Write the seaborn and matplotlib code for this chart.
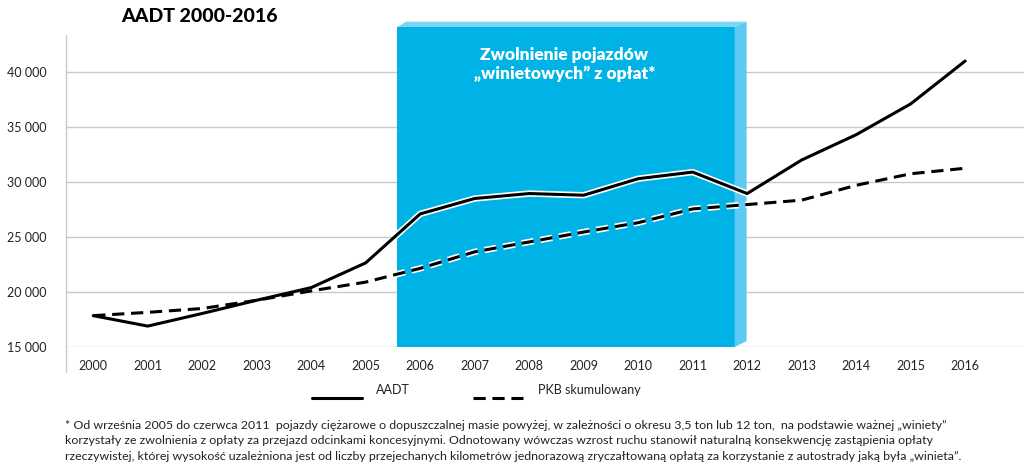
import matplotlib
matplotlib.use("Agg")
import matplotlib.pyplot as plt
import matplotlib.patheffects as pe
from matplotlib.patches import Polygon, Rectangle
from matplotlib.lines import Line2D
import seaborn as sns
import pandas as pd
import numpy as np

# ---- data ----
years = [str(y) for y in range(2000, 2017)]
aadt = [17850, 16900, 18050, 19250, 20400, 22650, 27100, 28500, 28950,
        28800, 30300, 30900, 28950, 32000, 34300, 37100, 41000]
pkb = [17850, 18150, 18500, 19250, 20100, 20900, 22150, 23650, 24550,
       25450, 26300, 27550, 27950, 28350, 29700, 30750, 31250]
ytick_vals = [15000, 20000, 25000, 30000, 35000, 40000]
ytick_labels = ["15 000", "20 000", "25 000", "30 000", "35 000", "40 000"]
title = "AADT 2000-2016"
box_text = "Zwolnienie pojazdów\n\u201ewinietowych\u201d z opłat*"
legend_labels = ["AADT", "PKB skumulowany"]
footnote = [
    "* Od września 2005 do czerwca 2011  pojazdy ciężarowe o dopuszczalnej masie powyżej, w zależności o okresu 3,5 ton lub 12 ton,  na podstawie ważnej \u201ewiniety\u201d",
    "korzystały ze zwolnienia z opłaty za przejazd odcinkami koncesyjnymi. Odnotowany wówczas wzrost ruchu stanowił naturalną konsekwencję zastąpienia opłaty",
    "rzeczywistej, której wysokość uzależniona jest od liczby przejechanych kilometrów jednorazową zryczałtowaną opłatą za korzystanie z autostrady jaką była \u201ewinieta\u201d.",
]
# shaded period (category units)
span_x0, span_x1, span_x2 = 5.58, 11.77, 11.99

df = pd.DataFrame({"year": years, "AADT": aadt, "PKB": pkb})

sns.set_theme(style="white")
plt.rcParams["font.family"] = ["Lato", "DejaVu Sans"]

fig = plt.figure(figsize=(10.24, 4.69), dpi=100)
ax = fig.add_axes([66 / 1024, 1 - 347 / 469, 1 - 66 / 1024, (347 - 35) / 469])

ymin, ymax = 15000, 43364
ax.set_ylim(ymin, ymax)
ax.set_xlim(-0.5, 17.08)

grid_c = "#c9c9c9"
for v in ytick_vals:
    ax.axhline(v, color=grid_c, lw=1, zorder=0)

# blue shaded box (3D look)
blue = "#00b3e6"
side = "#5ccaf2"
topc = "#7dd5f5"
ytop = 44091
ytop2 = 44573
front = Rectangle((span_x0, ymin), span_x1 - span_x0, ytop - ymin, facecolor=blue,
                  edgecolor="none", zorder=1, clip_on=False)
ax.add_patch(front)
sidep = Polygon([(span_x1, ymin), (span_x2, 15545), (span_x2, ytop2), (span_x1, ytop)],
                closed=True, facecolor=side, edgecolor="none", zorder=1, clip_on=False)
ax.add_patch(sidep)
topp = Polygon([(span_x0, ytop), (span_x0 + 0.16, ytop2), (span_x2, ytop2), (span_x1, ytop)],
               closed=True, facecolor=topc, edgecolor="none", zorder=1, clip_on=False)
ax.add_patch(topp)

ax.text((span_x0 + span_x1) / 2 - 0.03, 40700, box_text, color="white", ha="center",
        va="center", fontsize=12.5, fontweight="heavy", linespacing=1.2, zorder=2)

# lines
lw = 2.2
dash = [4.0, 2.2]
sns.lineplot(data=df, x="year", y="AADT", ax=ax, color="black", lw=lw, zorder=3, sort=False)
sns.lineplot(data=df, x="year", y="PKB", ax=ax, color="black", lw=lw, zorder=3, sort=False)
ax.lines[-1].set_dashes(dash)

# outlined copies inside the shaded box
clip_rect = Rectangle((span_x0, ymin), span_x2 - span_x0, ytop2 - ymin, transform=ax.transData)
n0 = len(ax.lines)
sns.lineplot(data=df, x="year", y="AADT", ax=ax, color="black", lw=lw, zorder=4, sort=False)
sns.lineplot(data=df, x="year", y="PKB", ax=ax, color="black", lw=lw, zorder=4, sort=False)
new = ax.lines[n0:]
new[1].set_dashes(dash)
for ln in new:
    ln.set_path_effects([pe.withStroke(linewidth=lw + 2.4, foreground="white")])
    ln.set_clip_path(clip_rect)

# axes styling
for s in ax.spines.values():
    s.set_visible(False)
ax.set_xlabel("")
ax.set_ylabel("")
ax.set_yticks(ytick_vals)
ax.set_yticklabels(ytick_labels)
ax.set_xticks(range(len(years)))
ax.set_xticklabels(years)
ax.tick_params(axis="y", length=0, pad=14, labelsize=9, labelcolor="#222222")
ax.tick_params(axis="x", length=0, pad=9, labelsize=9, labelcolor="#222222")
ax.set_xticks(np.arange(-0.5, len(years), 1.0), minor=True)
ax.tick_params(axis="x", which="minor", length=5, width=1, color=grid_c, direction="out")
ax.plot([0, 0], [-0.08, 1.0], transform=ax.transAxes, color=grid_c, lw=1, clip_on=False, zorder=0)

# title
fig.text(199 / 1024, 1 - 17 / 469, title, ha="center", va="center", fontsize=14,
         fontweight="black", color="black")

# legend (manual)
ly = 1 - 398 / 469
fig.add_artist(Line2D([312 / 1024, 362 / 1024], [ly, ly], color="black", lw=lw))
fig.text(376 / 1024, 1 - 390 / 469, legend_labels[0], va="center", fontsize=9, color="#222222")
fig.add_artist(Line2D([473 / 1024, 523 / 1024], [ly, ly], color="black", lw=lw, dashes=dash))
fig.text(538 / 1024, 1 - 390 / 469, legend_labels[1], va="center", fontsize=9, color="#222222")

# footnote
for i, line in enumerate(footnote):
    fig.text(65 / 1024, 1 - (425 + 15.5 * i) / 469, line, va="center", fontsize=8.9,
             color="#222222")

fig.savefig("out.png", dpi=100)
